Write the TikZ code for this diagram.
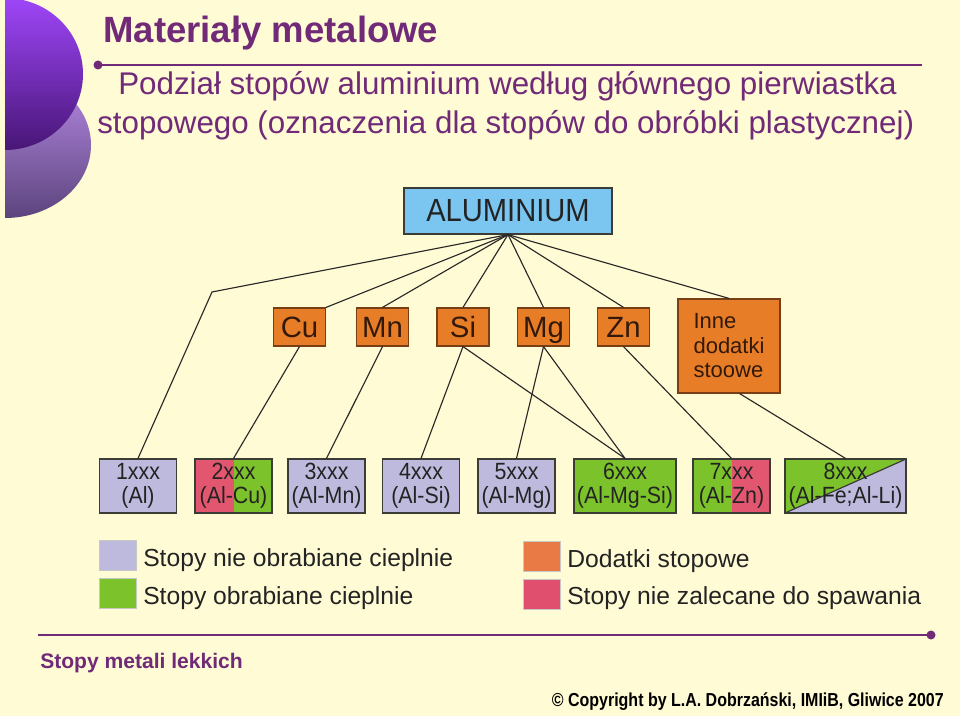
\documentclass[tikz,border=0pt]{standalone}
\usepackage{fontspec}
\setmainfont{Liberation Sans}
\newfontfamily\narrowsf[FakeStretch=0.85]{Liberation Sans}
\newfontfamily\semisf[FakeStretch=0.91]{Liberation Sans}
\usetikzlibrary{calc}
\definecolor{bg}{RGB}{255,251,212}
\definecolor{ttl}{RGB}{112,42,120}
\definecolor{lav}{RGB}{190,186,222}
\definecolor{grn}{RGB}{124,194,43}
\definecolor{rd}{RGB}{226,86,112}
\definecolor{orng}{RGB}{232,125,40}
\definecolor{legor}{RGB}{234,122,69}
\definecolor{legpk}{RGB}{224,80,110}
\definecolor{alub}{RGB}{122,198,240}
\definecolor{elBorder}{RGB}{120,62,22}
\definecolor{elText}{RGB}{50,25,10}
\definecolor{bxBorder}{RGB}{60,60,55}
\definecolor{bxText}{RGB}{35,35,35}
\definecolor{lnk}{RGB}{40,40,40}
\definecolor{vioTop}{RGB}{158,70,248}
\definecolor{vioBot}{RGB}{72,22,118}
\definecolor{lilTop}{RGB}{185,140,232}
\definecolor{lilBot}{RGB}{92,68,125}
\tikzset{
  elem/.style={draw=elBorder, fill=orng, line width=0.9pt, minimum width=39pt,
    minimum height=28.5pt, inner sep=0pt, text height=15.8pt, text depth=0pt,
    font=\fontsize{22}{24}\selectfont, text=elText},
  alloy/.style={draw=bxBorder, line width=0.9pt, minimum width=57.75pt,
    minimum height=40.5pt, inner sep=0pt, align=center,
    font=\semisf\fontsize{17.6}{18.2}\selectfont, text=bxText},
  link/.style={draw=lnk, line width=0.85pt},
  legsq/.style={draw=black!22, line width=0.4pt, minimum width=27.75pt,
    minimum height=22.5pt, inner sep=0pt},
  legtext/.style={anchor=base west, inner sep=0pt, text=bxText,
    font=\fontsize{18.5}{20}\selectfont},
  rule/.style={draw=ttl, line width=1.5pt}
}
\begin{document}
\begin{tikzpicture}[x=0.75pt,y=-0.75pt]
\useasboundingbox (0,0) rectangle (960,716);
\fill[bg] (0,0) rectangle (960,716);

% left decoration
\begin{scope}
  \clip (5,0) rectangle (200,240);
  \shade[top color=lilTop, bottom color=lilBot] (5,145) ellipse (86 and 73);
  \shade[top color=vioTop, bottom color=vioBot] (5,74) ellipse (78 and 76);
\end{scope}

% header
\node[anchor=base west, inner sep=0pt, text=ttl,
  font=\fontsize{27.4}{30}\selectfont\bfseries] (title) at (103,43) {Materiały metalowe};
\draw[rule] (98,65) -- (922,65);
\fill[ttl] (98,65) circle (4.5);
\node[anchor=base west, inner sep=0pt, text=ttl,
  font=\fontsize{23.5}{26}\selectfont] (sub1) at (118,95)
  {Podział stopów aluminium według głównego pierwiastka};
\node[anchor=base west, inner sep=0pt, text=ttl,
  font=\fontsize{23.5}{26}\selectfont] (sub2) at (97,134)
  {stopowego (oznaczenia dla stopów do obróbki plastycznej)};

% root
\node[draw=bxBorder, fill=alub, line width=0.9pt, minimum width=156pt,
  minimum height=34.5pt, inner sep=0pt, text=bxText,
  font=\semisf\fontsize{24}{26}\selectfont] (alu) at (508,211) {ALUMINIUM};

% alloying elements
\node[elem] (cu) at (299.5,327) {Cu};
\node[elem] (mn) at (382.5,327) {Mn};
\node[elem] (si) at (463,327) {Si};
\node[elem] (mg) at (543.5,327) {Mg};
\node[elem] (zn) at (623.5,327) {Zn};
\node[elem, minimum width=76.5pt, minimum height=70.5pt, align=left,
  text height=, text depth=,
  font=\fontsize{16.5}{18.4}\selectfont] (inne) at (729,346) {Inne\\dodatki\\stoowe};

% alloy series
\node[alloy, fill=lav] (b1) at (138,486) {1xxx\\(Al)};
\node[alloy, path picture={
    \fill[grn] (path picture bounding box.south west) rectangle (path picture bounding box.north east);
    \fill[rd] (path picture bounding box.south west) rectangle (path picture bounding box.north);
  }] (b2) at (233.5,486) {2xxx\\(Al-Cu)};
\node[alloy, fill=lav] (b3) at (326.5,486) {3xxx\\(Al-Mn)};
\node[alloy, fill=lav] (b4) at (421,486) {4xxx\\(Al-Si)};
\node[alloy, fill=lav] (b5) at (516.5,486) {5xxx\\(Al-Mg)};
\node[alloy, fill=grn, minimum width=76.5pt] (b6) at (625,486) {6xxx\\(Al-Mg-Si)};
\node[alloy, path picture={
    \fill[rd] (path picture bounding box.south west) rectangle (path picture bounding box.north east);
    \fill[grn] (path picture bounding box.south west) rectangle (path picture bounding box.north);
  }] (b7) at (731.5,486) {7xxx\\(Al-Zn)};
\node[alloy, minimum width=90.75pt, path picture={
    \fill[grn] (path picture bounding box.south west) -- (path picture bounding box.north east)
      -- (path picture bounding box.north west) -- cycle;
    \fill[lav] (path picture bounding box.south west) -- (path picture bounding box.north east)
      -- (path picture bounding box.south east) -- cycle;
    \draw[bxBorder, line width=0.9pt] (path picture bounding box.south west)
      -- (path picture bounding box.north east);
  }] (b8) at (845.5,486) {8xxx\\(Al-Fe;Al-Li)};

% connectors from root
\coordinate (bend) at (212,292);
\draw[link] (alu.south) -- (bend) -- (b1.north);
\draw[link] (alu.south) -- (cu.north east);
\draw[link] (alu.south) -- (mn.north);
\draw[link] (alu.south) -- (si.north);
\draw[link] (alu.south) -- (mg.north);
\draw[link] (alu.south) -- (zn.north);
\draw[link] (alu.south) -- (inne.north);

% connectors to series
\draw[link] (cu.south) -- (b2.north);
\draw[link] (mn.south) -- (b3.north);
\draw[link] (si.south) -- (b4.north);
\draw[link] (si.south) -- (b6.north);
\draw[link] (mg.south) -- (b5.north);
\draw[link] (mg.south) -- (b6.north);
\draw[link] (zn.south) -- (b7.north);
\draw[link] ([xshift=8pt]inne.south) -- (b8.north);

% legend
\node[legsq, fill=lav] (lg1) at (117.5,555) {};
\node[legsq, fill=grn] (lg2) at (117.5,593.5) {};
\node[legsq, fill=legor] (lg3) at (542,556) {};
\node[legsq, fill=legpk] (lg4) at (542,594) {};
\node[legtext] (lt1) at (143,566) {Stopy nie obrabiane cieplnie};
\node[legtext] (lt2) at (143,604) {Stopy obrabiane cieplnie};
\node[legtext] (lt3) at (567,567) {Dodatki stopowe};
\node[legtext] (lt4) at (567,604) {Stopy nie zalecane do spawania};

% footer
\draw[rule] (38,635) -- (931,635);
\fill[ttl] (931,635) circle (4.5);
\node[anchor=base west, inner sep=0pt, text=ttl,
  font=\fontsize{15.8}{18}\selectfont\bfseries] (foot) at (40,668) {Stopy metali lekkich};
\node[anchor=base east, inner sep=0pt, text=black,
  font=\narrowsf\fontsize{14.1}{16}\selectfont\bfseries] (copy) at (944,706)
  {© Copyright by L.A. Dobrzański, IMIiB, Gliwice 2007};
\end{tikzpicture}
\end{document}
